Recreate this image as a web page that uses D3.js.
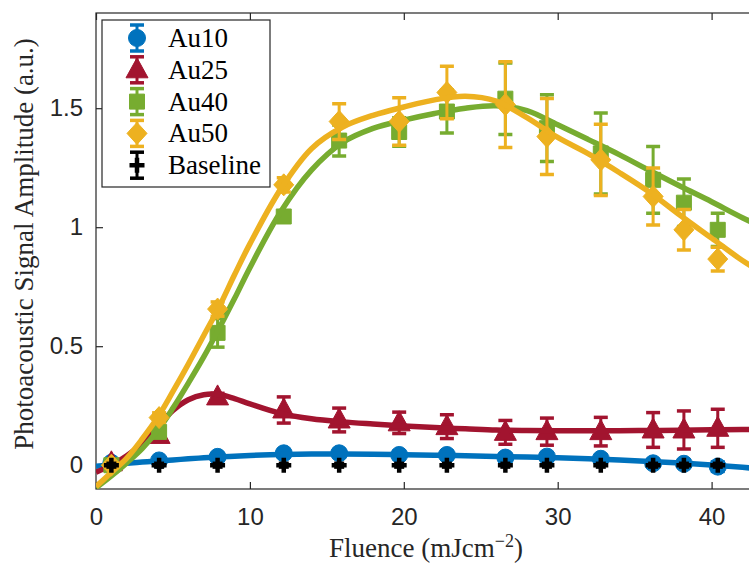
<!DOCTYPE html>
<html>
<head>
<meta charset="utf-8">
<script src="https://cdn.jsdelivr.net/npm/d3@7"></script>
<style>
  body { margin: 0; background: #fff; }
  svg { display: block; }
</style>
</head>
<body>
<svg id="chart" width="749" height="565"></svg>
<script>
// measured points
const fluence = [1.0, 4.1, 7.9, 12.2, 15.8, 19.7, 22.8, 26.6, 29.3, 32.8, 36.2, 38.2, 40.4]

const au10     = [0.01, 0.02, 0.035, 0.05, 0.05, 0.043, 0.043, 0.032, 0.036, 0.027, 0.008, 0.006, -0.006]
const au10Err  = [0.01, 0.01, 0.01, 0.015, 0.015, 0.015, 0.015, 0.015, 0.015, 0.015, 0.015, 0.015, 0.02]
const au25     = [0.01, 0.125, 0.287, 0.232, 0.19, 0.178, 0.162, 0.138, 0.141, 0.141, 0.148, 0.148, 0.155]
const au25Err  = [0.01, 0.02, 0.015, 0.055, 0.05, 0.045, 0.05, 0.05, 0.057, 0.06, 0.073, 0.08, 0.08]
const au40     = [0.0, 0.14, 0.556, 1.045, 1.364, 1.40, 1.486, 1.54, 1.416, 1.31, 1.199, 1.103, 0.989]
const au40Err  = [0.01, 0.02, 0.06, 0.02, 0.065, 0.06, 0.09, 0.15, 0.14, 0.17, 0.14, 0.1, 0.07]
const au50     = [0.0, 0.2, 0.656, 1.178, 1.444, 1.444, 1.566, 1.515, 1.381, 1.283, 1.129, 0.989, 0.866]
const au50Err  = [0.01, 0.02, 0.03, 0.03, 0.075, 0.1, 0.11, 0.18, 0.16, 0.15, 0.12, 0.085, 0.05]
const baseline    = [0, 0, 0, 0, 0, 0, 0, 0, 0, 0, 0, 0, 0]
const baselineErr = [0.008, 0.008, 0.008, 0.008, 0.008, 0.008, 0.008, 0.008, 0.008, 0.008, 0.008, 0.008, 0.008]

// fitted curves
const fitFluence = [0, 1, 2, 3, 4, 5, 6, 7, 8, 9, 10, 12, 14, 16, 18, 20, 22, 24, 26, 28, 30, 32, 34, 36, 38, 40, 42, 45]
const au10Fit = [-0.005, 0.002, 0.008, 0.013, 0.018, 0.022, 0.027, 0.031, 0.035, 0.038, 0.041, 0.045, 0.047, 0.047, 0.046, 0.044, 0.042, 0.04, 0.037, 0.034, 0.031, 0.027, 0.022, 0.016, 0.009, 0.001, -0.009, -0.025]
const au25Fit = [-0.03, 0.0, 0.04, 0.09, 0.16, 0.23, 0.275, 0.296, 0.297, 0.28, 0.258, 0.218, 0.195, 0.182, 0.173, 0.165, 0.158, 0.153, 0.148, 0.146, 0.145, 0.145, 0.145, 0.146, 0.147, 0.149, 0.15, 0.152]
const au40Fit = [-0.095, -0.045, 0.01, 0.07, 0.145, 0.24, 0.345, 0.455, 0.575, 0.7, 0.83, 1.065, 1.24, 1.355, 1.415, 1.45, 1.478, 1.5, 1.51, 1.49, 1.43, 1.368, 1.305, 1.237, 1.171, 1.107, 1.04, 0.95]
const au50Fit = [-0.09, -0.03, 0.03, 0.11, 0.2, 0.31, 0.425, 0.545, 0.665, 0.8, 0.93, 1.16, 1.33, 1.42, 1.47, 1.505, 1.535, 1.55, 1.53, 1.46, 1.377, 1.308, 1.23, 1.146, 1.048, 0.954, 0.86, 0.74]

const xTicks = [0, 10, 20, 30, 40]
const yTicks = [0, 0.5, 1, 1.5]

const series = [
  {name: "Au10", color: "#0072BD", marker: "circle", y: au10, err: au10Err, fit: au10Fit},
  {name: "Au25", color: "#A2142F", marker: "triangle", y: au25, err: au25Err, fit: au25Fit},
  {name: "Au40", color: "#77AC30", marker: "square", y: au40, err: au40Err, fit: au40Fit},
  {name: "Au50", color: "#EDB120", marker: "diamond", y: au50, err: au50Err, fit: au50Fit},
  {name: "Baseline", color: "#000000", marker: "plus", y: baseline, err: baselineErr, fit: null}
]

const svg = d3.select("#chart")
const plotLeft = 96, plotTop = 13, plotBottom = 489
const plotRight = plotLeft + 43 * 15.39

const x = d3.scaleLinear().domain([0, 43]).range([plotLeft, plotRight])
const y = d3.scaleLinear().domain([-0.1, 1.9]).range([plotBottom, plotTop])

const axisColor = "#262626"

svg.append("defs").append("clipPath").attr("id", "plotClip")
  .append("rect")
  .attr("x", plotLeft).attr("y", plotTop)
  .attr("width", plotRight - plotLeft).attr("height", plotBottom - plotTop)

// marker paths
function markerPath(type) {
  if (type === "circle") return d3.symbol().type(d3.symbolCircle).size(Math.PI * 8.5 * 8.5)()
  if (type === "triangle") return "M0,-12L11,8L-11,8Z"
  if (type === "square") return "M-7.5,-7.5H7.5V7.5H-7.5Z"
  if (type === "diamond") return "M0,-11L10,0L0,11L-10,0Z"
  return "M-7.5,0H7.5M0,-7.5V7.5"
}

function drawMarker(g, s, px, py) {
  let m = g.append("path")
    .attr("d", markerPath(s.marker))
    .attr("transform", "translate(" + px + "," + py + ")")
  if (s.marker === "plus") {
    m.attr("fill", "none").attr("stroke", s.color).attr("stroke-width", 4.5)
  } else {
    m.attr("fill", s.color).attr("stroke", s.color).attr("stroke-width", 1)
  }
}

function drawErrorBar(g, s, px, y0, y1, capW) {
  g.append("line")
    .attr("x1", px).attr("x2", px).attr("y1", y0).attr("y2", y1)
    .attr("stroke", s.color).attr("stroke-width", 3)
  ;[y0, y1].forEach(cy => {
    g.append("line")
      .attr("x1", px - capW).attr("x2", px + capW).attr("y1", cy).attr("y2", cy)
      .attr("stroke", s.color).attr("stroke-width", 3.5)
  })
}

// axes (ticks inside, box on)
let gx = svg.append("g")
  .attr("transform", "translate(0," + plotBottom + ")")
  .call(d3.axisBottom(x).tickValues(xTicks).tickSize(-7).tickPadding(19).tickFormat(d3.format("d")))
let gxTop = svg.append("g")
  .attr("transform", "translate(0," + plotTop + ")")
  .call(d3.axisTop(x).tickValues(xTicks).tickSize(-7).tickFormat(""))
let gy = svg.append("g")
  .attr("transform", "translate(" + plotLeft + ",0)")
  .call(d3.axisLeft(y).tickValues(yTicks).tickSize(-7).tickPadding(13).tickFormat(d => d === 0 ? "0" : d === 1 ? "1" : d3.format(".1f")(d)))
let gyRight = svg.append("g")
  .attr("transform", "translate(" + plotRight + ",0)")
  .call(d3.axisRight(y).tickValues(yTicks).tickSize(-7).tickFormat(""))

;[gx, gxTop, gy, gyRight].forEach(g => {
  g.select(".domain").remove()
  g.selectAll(".tick line").attr("stroke", axisColor).attr("stroke-width", 1.2)
  g.selectAll(".tick text")
    .attr("fill", axisColor)
    .style("font-family", "'Liberation Sans', Arial, sans-serif")
    .style("font-size", "24px")
})

svg.append("rect")
  .attr("x", plotLeft).attr("y", plotTop)
  .attr("width", plotRight - plotLeft).attr("height", plotBottom - plotTop)
  .attr("fill", "none")
  .attr("stroke", axisColor)
  .attr("stroke-width", 1.2)

// data
let plot = svg.append("g").attr("clip-path", "url(#plotClip)")
let fitLine = d3.line()
  .x((d, i) => x(fitFluence[i]))
  .y(d => y(d))
  .curve(d3.curveCatmullRom.alpha(0.5))

series.forEach(s => {
  let g = plot.append("g").attr("class", "series_" + s.name)
  fluence.forEach((f, i) => {
    drawErrorBar(g, s, x(f), y(s.y[i] - s.err[i]), y(s.y[i] + s.err[i]), s.marker === "plus" ? 5 : 7)
  })
  fluence.forEach((f, i) => {
    drawMarker(g, s, x(f), y(s.y[i]))
  })
  if (s.fit) {
    g.append("path")
      .datum(s.fit)
      .attr("d", fitLine)
      .attr("fill", "none")
      .attr("stroke", s.color)
      .attr("stroke-width", 5.5)
      .attr("stroke-linejoin", "round")
  }
})

// axis labels
const serif = "'Liberation Serif', 'Times New Roman', serif"
let xLabel = svg.append("text")
  .attr("x", 426).attr("y", 557)
  .attr("text-anchor", "middle")
  .style("font-family", serif).style("font-size", "27px")
  .attr("fill", axisColor)
xLabel.append("tspan").text("Fluence (mJcm")
xLabel.append("tspan").attr("dy", -10).style("font-size", "18px").text("\u22122")
xLabel.append("tspan").attr("dy", 10).text(")")

svg.append("text")
  .attr("transform", "translate(33,244) rotate(-90)")
  .attr("text-anchor", "middle")
  .style("font-family", serif).style("font-size", "27px")
  .attr("fill", axisColor)
  .text("Photoacoustic Signal Amplitude (a.u.)")

// legend
let legend = svg.append("g")
legend.append("rect")
  .attr("x", 102).attr("y", 20).attr("width", 168).attr("height", 167)
  .attr("fill", "#fff").attr("stroke", axisColor).attr("stroke-width", 1.2)

series.forEach((s, i) => {
  let cy = 38 + i * 31.8
  drawErrorBar(legend, s, 137, cy - 13, cy + 13, 7)
  drawMarker(legend, s, 137, cy)
  legend.append("text")
    .attr("x", 168).attr("y", cy + 9)
    .style("font-family", serif).style("font-size", "27px")
    .attr("fill", "#000")
    .text(s.name)
})
</script>
</body>
</html>
